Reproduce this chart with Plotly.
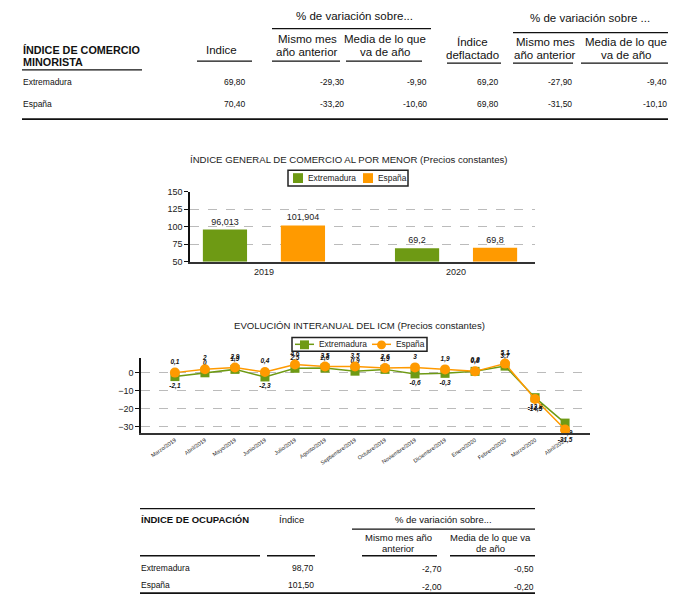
import plotly.graph_objects as go

W, H = 698, 607
FONT = "Liberation Sans, Arial, sans-serif"
GREEN = "#6E9A14"
ORANGE = "#FF9A00"

# ---------------- data ----------------
t1_rows = ["Extremadura", "España"]
t1_indice = [69.80, 70.40]
t1_mismo = [-29.30, -33.20]
t1_media = [-9.90, -10.60]
t1_defl = [69.20, 69.80]
t1_defl_mismo = [-27.90, -31.50]
t1_defl_media = [-9.40, -10.10]

series_names = ["Extremadura", "España"]
series_colors = [GREEN, ORANGE]

bar_years = ["2019", "2020"]
bar_extremadura = [96.013, 69.2]
bar_espana = [101.904, 69.8]

months = ["Marzo/2019", "Abril/2019", "Mayo/2019", "Junio/2019", "Julio/2019",
          "Agosto/2019", "Septiembre/2019", "Octubre/2019", "Noviembre/2019",
          "Diciembre/2019", "Enero/2020", "Febrero/2020", "Marzo/2020", "Abril/2020"]
icm_extremadura = [-2.1, 0, 1.9, -2.3, 2.5, 2.6, 0.9, 1.9, -0.6, -0.3, 0.8, 3.7, -13.8, -27.9]
icm_espana = [0.1, 2, 2.9, 0.4, 4.6, 3.5, 3.5, 2.6, 3, 1.9, 0.8, 5.1, -14.5, -31.5]

t3_rows = ["Extremadura", "España"]
t3_indice = [98.70, 101.50]
t3_mismo = [-2.70, -2.00]
t3_media = [-0.50, -0.20]


def f2(v):
    return f"{v:.2f}".replace(".", ",")


def fg(v):
    return f"{v:g}".replace(".", ",")


def px(x):
    return x / W


def py(y):
    return 1 - y / H


annotations = []
shapes = []


def text(x, y, s, size=9, xanchor="left", bold=False, color="#111"):
    annotations.append(dict(
        x=px(x), y=py(y), xref="paper", yref="paper", text=s, showarrow=False,
        xanchor=xanchor, yanchor="middle",
        font=dict(family=FONT, size=size, color=color,
                  weight="bold" if bold else "normal"),
        borderpad=0))


def hline(x0, x1, y, w=1.3, color="#111"):
    shapes.append(dict(type="line", xref="paper", yref="paper",
                       x0=px(x0), x1=px(x1), y0=py(y), y1=py(y),
                       line=dict(color=color, width=w)))


def rect(x0, y0, x1, y1, fill, line_color=None, lw=0, kind="rect"):
    shapes.append(dict(type=kind, xref="paper", yref="paper",
                       x0=px(x0), x1=px(x1), y0=py(y1), y1=py(y0),
                       fillcolor=fill,
                       line=dict(color=line_color or fill, width=lw)))


# ---------------- table 1 ----------------
HS = 11.5
T1 = -2  # vertical adjustment
text(354, 13 + T1, "% de variación sobre...", HS, "center")
hline(272, 431, 26 + T1)
text(590, 15 + T1, "% de variación sobre ...", HS, "center")
hline(513, 668, 30 + T1)
text(22, 48 + T1, "ÍNDICE DE COMERCIO", 10.8, bold=True)
text(22, 60 + T1, "MINORISTA", 10.8, bold=True)
hline(22, 142, 68 + T1)
text(222, 48 + T1, "Indice", HS, "center")
hline(197, 252, 59 + T1)
text(307, 37 + T1, "Mismo mes", HS, "center")
text(307, 50 + T1, "año anterior", HS, "center")
hline(272, 340, 59 + T1)
text(385, 37 + T1, "Media de lo que", HS, "center")
text(385, 50 + T1, "va de año", HS, "center")
hline(346, 422, 59 + T1)
text(472, 40 + T1, "Índice", HS, "center")
text(472, 53 + T1, "deflactado", HS, "center")
hline(447, 501, 61 + T1)
text(545, 40 + T1, "Mismo mes", HS, "center")
text(545, 53 + T1, "año anterior", HS, "center")
hline(513, 573, 61 + T1)
text(626, 40 + T1, "Media de lo que", HS, "center")
text(626, 53 + T1, "va de año", HS, "center")
hline(581, 668, 61 + T1)

t1_cols = [(247, t1_indice), (345, t1_mismo), (428, t1_media),
           (500, t1_defl), (573, t1_defl_mismo), (668, t1_defl_media)]
for i, name in enumerate(t1_rows):
    yy = 80 + T1 + i * 23
    text(22, yy, name, 8.5)
    for xr, arr in t1_cols:
        text(xr, yy, f2(arr[i]), 8.5, "right")
hline(22, 668, 118 + T1, 1.6)

# ---------------- table 3 ----------------
T3 = 2
hline(140, 535, 510 + T3, 1.3)
text(140, 521 + T3, "ÍNDICE DE OCUPACIÓN", 9.5, bold=True)
text(278, 521 + T3, "Índice", 9.5)
text(444, 521 + T3, "% de variación sobre...", 9.5, "center")
hline(352, 535, 531 + T3)
text(398, 539 + T3, "Mismo mes año", 9.5, "center")
text(398, 551 + T3, "anterior", 9.5, "center")
text(490, 539 + T3, "Media de lo que va", 9.5, "center")
text(490, 551 + T3, "de año", 9.5, "center")
hline(140, 260, 558 + T3)
hline(267, 315, 558 + T3)
hline(362, 437, 558 + T3)
hline(450, 535, 558 + T3)
for i, name in enumerate(t3_rows):
    yy = 570 + T3 + i * 18
    text(140, yy, name, 8.5)
    text(315, yy, f2(t3_indice[i]), 8.5, "right")
    text(443, yy + 1.5, f2(t3_mismo[i]), 8.5, "right")
    text(535, yy + 1.5, f2(t3_media[i]), 8.5, "right")
hline(140, 535, 596 + T3, 1.6)

# ---------------- chart titles ----------------
text(349, 157, "ÍNDICE GENERAL DE COMERCIO AL POR MENOR (Precios constantes)", 9.6, "center", color="#222")
text(359, 326, "EVOLUCIÓN INTERANUAL DEL ICM (Precios constantes)", 9.6, "center", color="#222")

# ---------------- legends (drawn) ----------------
LF = 8.4
# bar legend
rect(288, 168, 408, 184, "white", "#222", 1.5)
bar_leg_x = [293, 363]
for nm, col, lx in zip(series_names, series_colors, bar_leg_x):
    rect(lx, 171, lx + 10, 181, col)
    text(lx + 14, 176, nm, LF, color="#222")
# line legend
rect(292, 338, 427, 352, "white", "#222", 1.5)
line_leg_x = [295, 372]
line_leg_sym = ["rect", "circle"]
for nm, col, lx, sym in zip(series_names, series_colors, line_leg_x, line_leg_sym):
    shapes.append(dict(type="line", xref="paper", yref="paper",
                       x0=px(lx), x1=px(lx + 19), y0=py(345), y1=py(345),
                       line=dict(color=col, width=1.5)))
    rect(lx + 5, 341, lx + 14, 350, col, kind=sym)
    text(lx + 23, 345, nm, LF, color="#222")

fig = go.Figure()

# ---------------- bar chart ----------------
fig.add_trace(go.Bar(
    x=bar_years, y=[v - 50 for v in bar_extremadura], base=50, name=series_names[0],
    marker=dict(color=GREEN, line=dict(width=0)), width=0.23, offset=-0.318,
    text=[fg(v) for v in bar_extremadura], textposition="outside",
    textfont=dict(family=FONT, size=9, color="#222"), cliponaxis=False,
    xaxis="x", yaxis="y", showlegend=False))
fig.add_trace(go.Bar(
    x=bar_years, y=[v - 50 for v in bar_espana], base=50, name=series_names[1],
    marker=dict(color=ORANGE, line=dict(width=0)), width=0.23, offset=0.088,
    text=[fg(v) for v in bar_espana], textposition="outside",
    textfont=dict(family=FONT, size=9, color="#222"), cliponaxis=False,
    xaxis="x", yaxis="y", showlegend=False))

# ---------------- line chart ----------------
lbl_font = dict(family=FONT, size=6.5, color="#111", weight="bold", style="italic")
fig.add_trace(go.Scatter(
    x=months, y=icm_extremadura, name=series_names[0], mode="lines+markers+text",
    line=dict(color=GREEN, width=1.5),
    marker=dict(symbol="square", size=9, color=GREEN),
    text=[fg(v) for v in icm_extremadura],
    textposition=["top center" if v >= 0 else "bottom center" for v in icm_extremadura],
    textfont=lbl_font, cliponaxis=False, xaxis="x2", yaxis="y2", showlegend=False))
fig.add_trace(go.Scatter(
    x=months, y=icm_espana, name=series_names[1], mode="lines+markers+text",
    line=dict(color=ORANGE, width=1.5),
    marker=dict(symbol="circle", size=10, color=ORANGE),
    text=[fg(v) for v in icm_espana],
    textposition=["top center" if v >= 0 else "bottom center" for v in icm_espana],
    textfont=lbl_font, cliponaxis=False, xaxis="x2", yaxis="y2", showlegend=False))

axis_font = dict(family=FONT, size=9, color="#222")

fig.update_layout(
    width=W, height=H, margin=dict(l=0, r=0, t=0, b=0),
    paper_bgcolor="white", plot_bgcolor="white",
    barmode="overlay", showlegend=False,
    annotations=annotations, shapes=shapes,
    xaxis=dict(domain=[px(190), px(535)], anchor="y", type="category",
               range=[-0.385, 1.411], showline=True, linecolor="#333", linewidth=2,
               showgrid=False, ticks="", tickfont=axis_font, fixedrange=True),
    yaxis=dict(domain=[py(261), py(190)], anchor="x", range=[50, 150], dtick=25,
               showgrid=True, gridcolor="#bbbbbb", griddash="dash", gridwidth=1,
               showline=True, linecolor="#111", linewidth=1.5, ticks="outside",
               ticklen=4, tickcolor="#111", tickfont=axis_font, zeroline=False),
    xaxis2=dict(domain=[px(141), px(590)], anchor="y2", type="category",
                range=[-1.13, 13.83], showline=True, linecolor="#333", linewidth=2,
                showgrid=False, ticks="", tickangle=-35,
                tickfont=dict(family=FONT, size=5.5, color="#222")),
    yaxis2=dict(domain=[py(435), py(359.3)], anchor="x2", range=[-33.3, 8],
                tickvals=[0, -10, -20, -30],
                showgrid=True, gridcolor="#bbbbbb", griddash="dash", gridwidth=1,
                showline=True, linecolor="#111", linewidth=1.5, ticks="outside",
                ticklen=4, tickcolor="#111", tickfont=axis_font, zeroline=False),
)

fig.write_html("out.html", config={"displayModeBar": False},
               post_script="document.body.style.margin='0px';document.body.style.overflow='hidden';")
